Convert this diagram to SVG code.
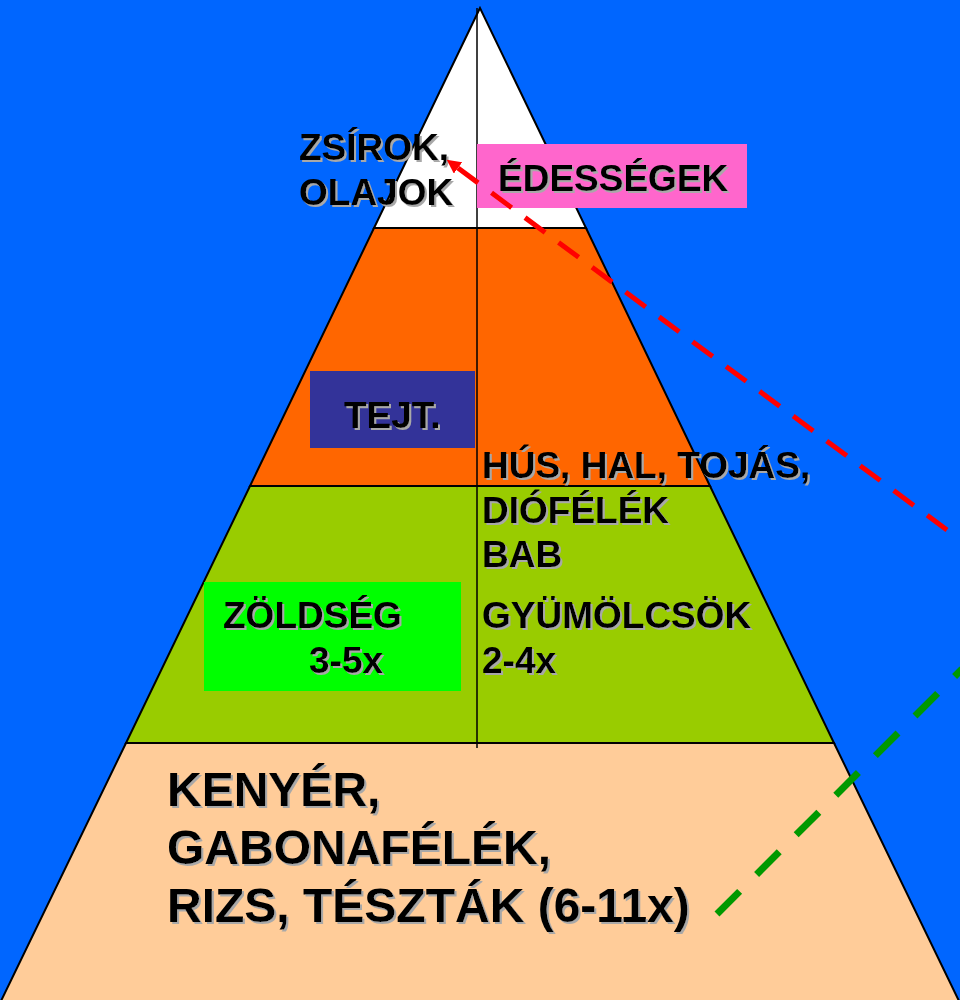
<svg xmlns="http://www.w3.org/2000/svg" width="960" height="1000" viewBox="0 0 960 1000">
<defs>
<style>
.lyr{stroke:#000;stroke-width:2;stroke-linejoin:miter}
.t{font-family:"Liberation Sans",Arial,sans-serif;font-weight:bold;fill:#000;filter:url(#sh)}
.s{font-size:37px}
.b{font-size:48px}
</style>
<filter id="sh" x="-5%" y="-20%" width="115%" height="150%">
<feDropShadow dx="2" dy="2" stdDeviation="0" flood-color="#A8A8A8" flood-opacity="1"/>
</filter>
<marker id="ah" viewBox="0 0 10 10" refX="0" refY="5" markerWidth="2.8" markerHeight="2.8" orient="auto-start-reverse" markerUnits="strokeWidth">
<path d="M0,0 L10,5 L0,10 z" fill="#FF0000"/>
</marker>
</defs>
<rect x="0" y="0" width="960" height="1000" fill="#0066FF"/>

<g id="layer-top">
<polygon class="lyr" points="480,8 374,228 586,228" fill="#FFFFFF"/>
</g>
<g id="layer-orange">
<polygon class="lyr" points="374,228 586,228 710,486 250,486" fill="#FF6600"/>
</g>
<g id="layer-green">
<polygon class="lyr" points="250,486 710,486 834,743 126,743" fill="#99CC00"/>
</g>
<g id="layer-base">
<polygon class="lyr" points="126,743 834,743 959,1001 1,1001" fill="#FFCC99"/>
</g>
<g id="divider">
<line x1="477" y1="8" x2="477" y2="748" stroke="#000" stroke-width="1.5"/>
</g>

<g id="zsirok">
<text class="t s" x="299" y="160">ZSÍROK,</text>
<text class="t s" x="299" y="205">OLAJOK</text>
</g>
<g id="edessegek">
<rect x="477" y="144" width="270" height="64" fill="#FF66CC"/>
<text class="t s" x="498" y="191">ÉDESSÉGEK</text>
</g>
<g id="tejt">
<rect x="310" y="371" width="165" height="77" fill="#333399"/>
<text class="t s" x="344" y="428">TEJT.</text>
</g>
<g id="hus">
<text class="t s" x="482" y="478">HÚS, HAL, TOJÁS,</text>
<text class="t s" x="482" y="523">DIÓFÉLÉK</text>
<text class="t s" x="482" y="567">BAB</text>
</g>
<g id="zoldseg">
<rect x="204" y="582" width="257" height="109" fill="#00FF00"/>
<text class="t s" x="223" y="628">ZÖLDSÉG</text>
<text class="t s" x="309" y="673">3-5x</text>
</g>
<g id="gyumolcs">
<text class="t s" x="482" y="628">GYÜMÖLCSÖK</text>
<text class="t s" x="482" y="673">2-4x</text>
</g>
<g id="kenyer">
<text class="t b" x="167" y="806">KENYÉR,</text>
<text class="t b" x="167" y="864">GABONAFÉLÉK,</text>
<text class="t b" x="167" y="922">RIZS, TÉSZTÁK (6-11x)</text>
</g>

<g id="connectors">
<line x1="458" y1="168" x2="947" y2="530" stroke="#FF0000" stroke-width="5" stroke-dasharray="25 16.7" marker-start="url(#ah)"/>
<line x1="717" y1="914" x2="962" y2="669" stroke="#009900" stroke-width="7" stroke-dasharray="32 24"/>
</g>
</svg>
